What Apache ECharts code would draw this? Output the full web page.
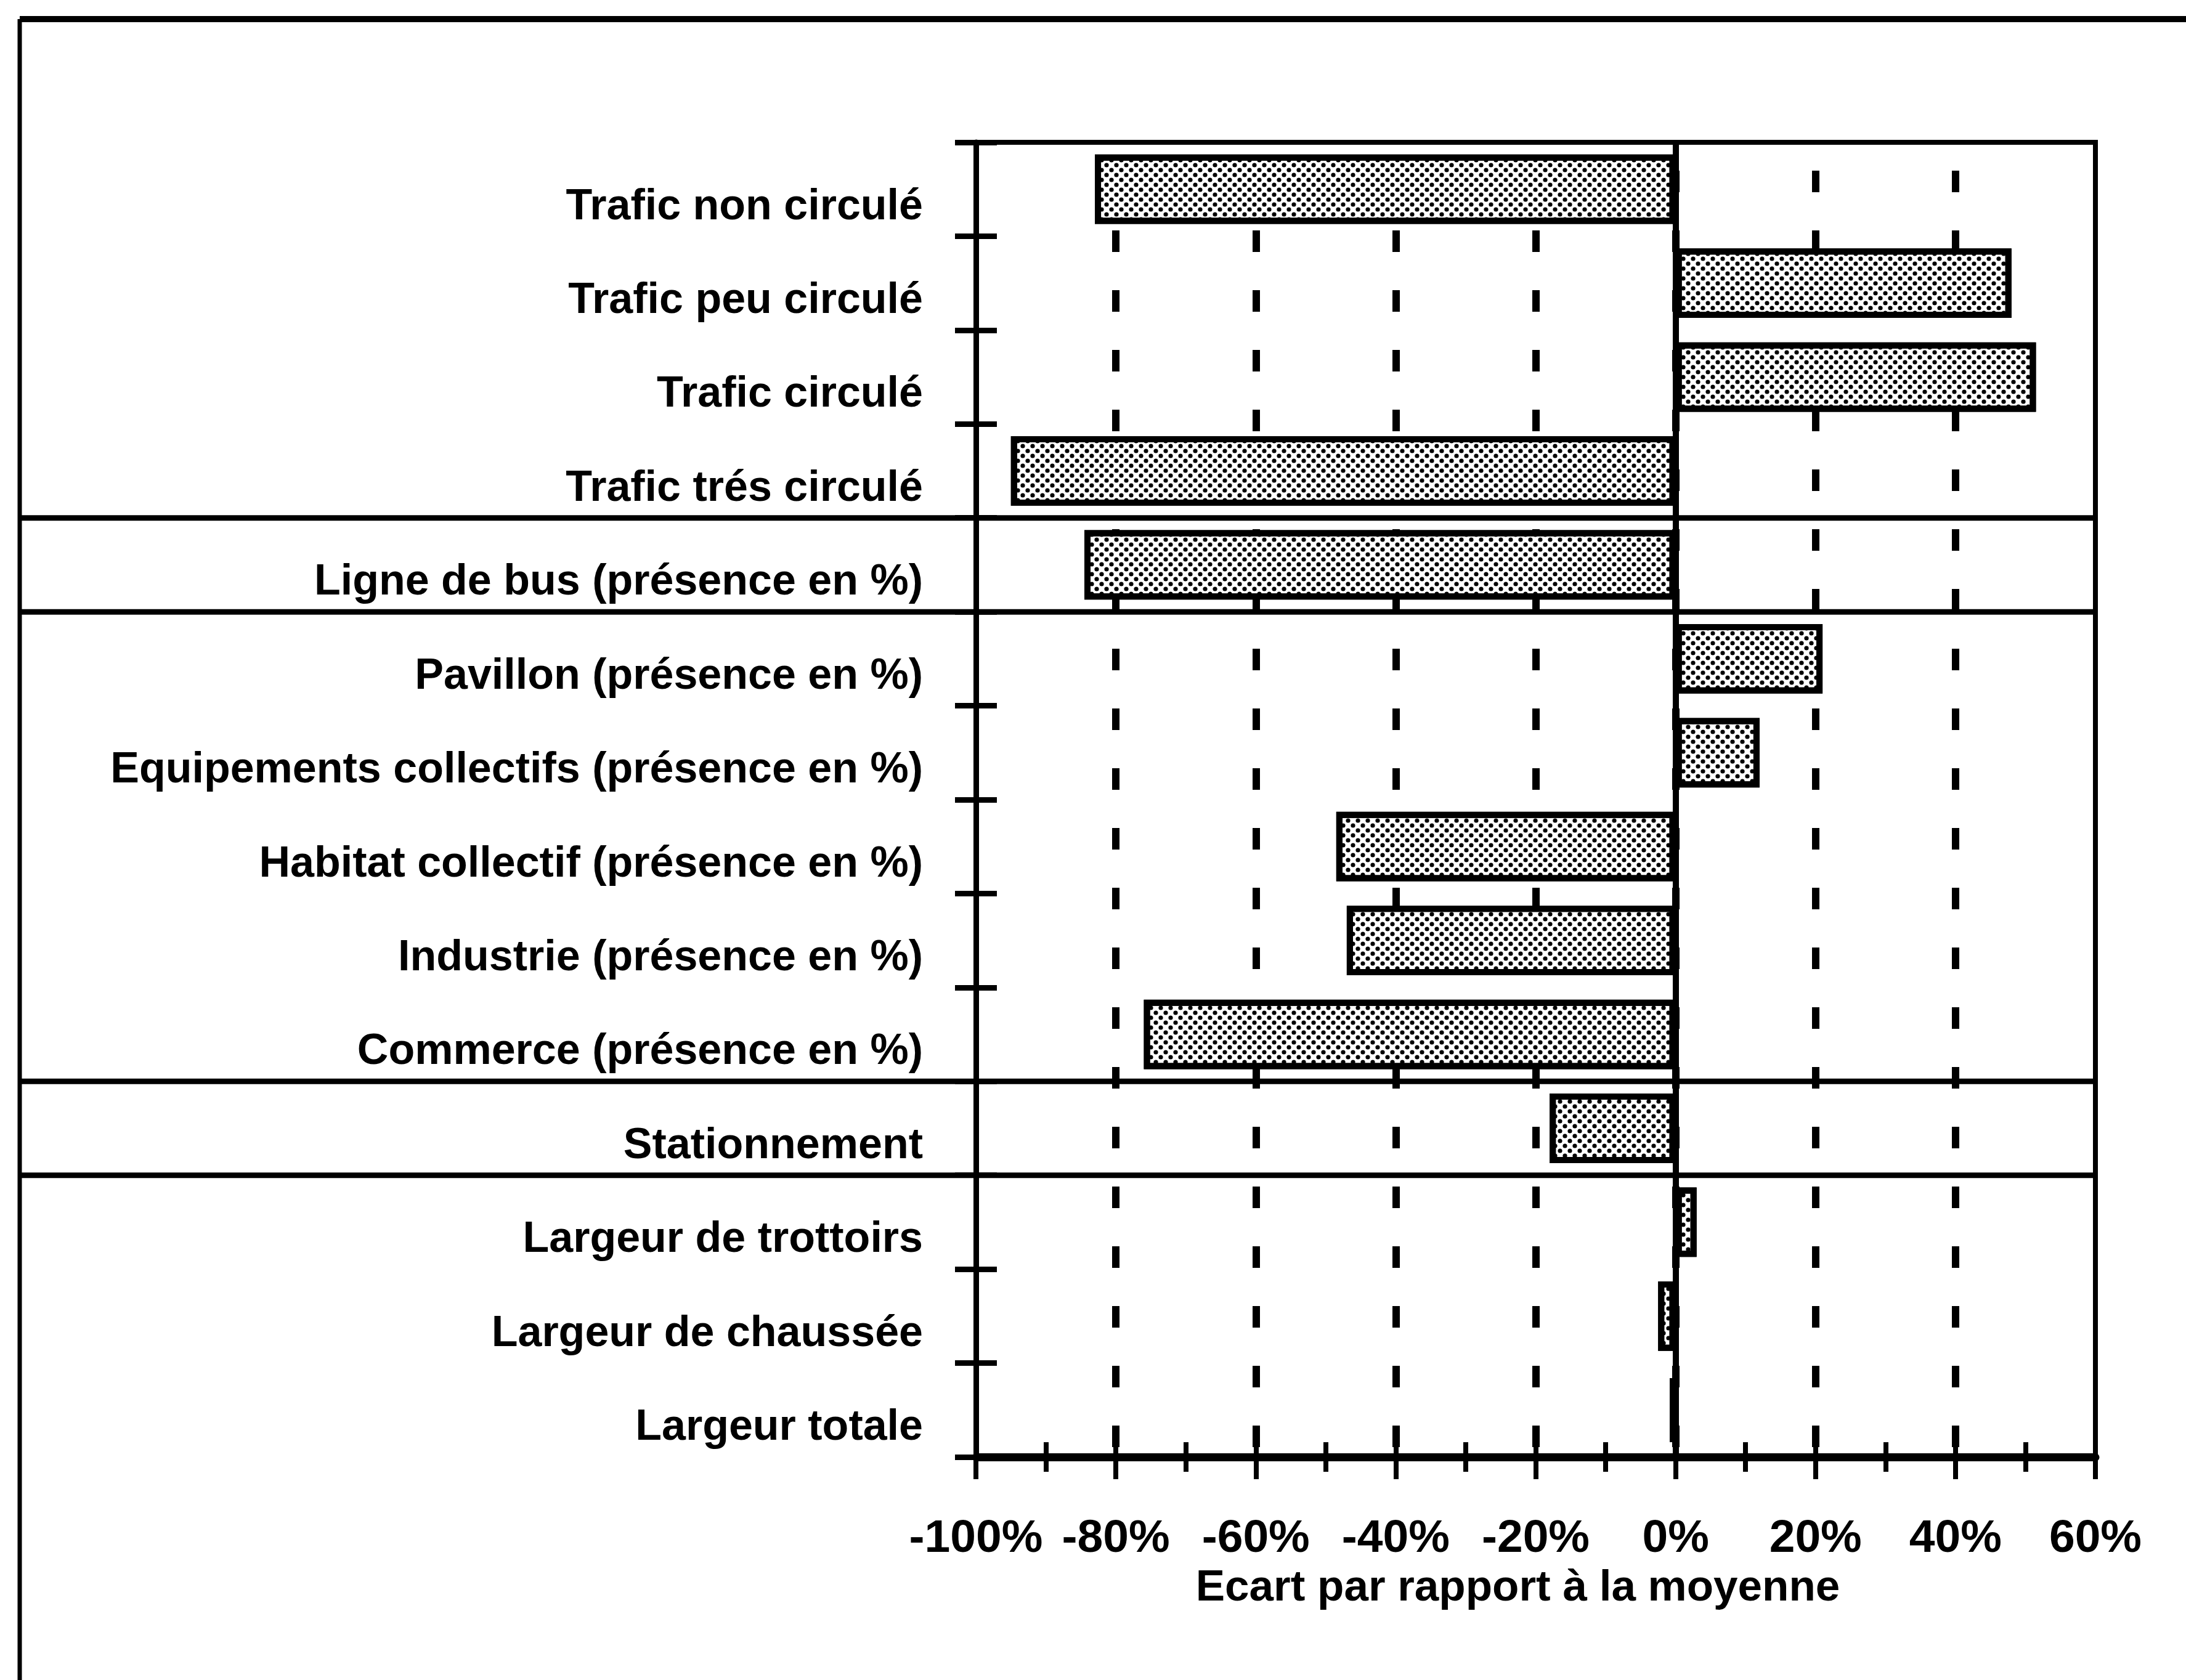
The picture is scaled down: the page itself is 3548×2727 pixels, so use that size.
<!DOCTYPE html>
<html>
<head>
<meta charset="utf-8">
<script src="https://cdn.jsdelivr.net/npm/echarts@6/dist/echarts.min.js"></script>
<style>
html, body { margin: 0; padding: 0; background: #fff; }
#main { width: 3548px; height: 2727px; }
</style>
</head>
<body>
<div id="main"></div>
<script>
// catégories (de haut en bas) et écarts par rapport à la moyenne, en %
var categories = [
    'Trafic non circulé',
    'Trafic peu circulé',
    'Trafic circulé',
    'Trafic trés circulé',
    'Ligne de bus (présence en %)',
    'Pavillon (présence en %)',
    'Equipements collectifs (présence en %)',
    'Habitat collectif (présence en %)',
    'Industrie (présence en %)',
    'Commerce (présence en %)',
    'Stationnement',
    'Largeur de trottoirs',
    'Largeur de chaussée',
    'Largeur totale'
]
var values = [-83, 48, 51.5, -95, -84.5, 21, 12, -48.5, -47, -76, -18, 3, -2.5, -0.8]

// axe des x
var xMin = -100
var xMax = 60
var xStep = 20

// traits de séparation sous ces catégories
var sectionBreaks = [3, 4, 9, 10]

var font = "'Liberation Sans Narrow', 'Liberation Sans', Arial, sans-serif"
var black = '#000'

var myChart = echarts.init(document.getElementById('main'))

var tickStyle = { color: black, width: 8 }

var option = {
    animation: false,
    backgroundColor: '#fff',
    grid: {
        left: 1584,
        right: 147,
        top: 231,
        bottom: 362,
        show: true,
        borderColor: black,
        borderWidth: 8,
        outerBoundsMode: 'none'
    },
    xAxis: [{
        type: 'value',
        position: 'bottom',
        min: xMin,
        max: xMax,
        interval: xStep,
        axisLine: { show: true, onZero: false, lineStyle: { color: black, width: 13 } },
        axisTick: { show: true, length: 36, lineStyle: tickStyle },
        minorTick: { show: true, splitNumber: 2, length: 24, lineStyle: tickStyle },
        axisLabel: {
            formatter: '{value}%',
            color: black,
            fontFamily: font,
            fontWeight: 'bold',
            fontSize: 75,
            margin: 96
        },
        splitLine: {
            show: true,
            showMinLine: false,
            showMaxLine: false,
            lineStyle: { color: black, width: 12, type: [35, 62], dashOffset: 51 }
        },
        name: 'Ecart par rapport à la moyenne',
        nameLocation: 'middle',
        nameGap: 178,
        nameTextStyle: {
            color: black,
            fontFamily: font,
            fontWeight: 'bold',
            fontSize: 71,
            padding: [0, 58, 0, 0]
        }
    }, {
        // ticks intérieurs, pour qu'ils traversent l'axe
        type: 'value',
        position: 'bottom',
        min: xMin,
        max: xMax,
        interval: xStep,
        axisLine: { show: false, onZero: false },
        axisTick: { show: true, inside: true, length: 36, lineStyle: tickStyle },
        minorTick: { show: true, splitNumber: 2, length: 24, lineStyle: tickStyle },
        axisLabel: { show: false },
        splitLine: { show: false }
    }],
    yAxis: [{
        type: 'category',
        data: categories,
        inverse: true,
        position: 'left',
        axisLine: { show: true, onZero: false, lineStyle: { color: black, width: 9 } },
        axisTick: { show: true, length: 34, lineStyle: { color: black, width: 9 } },
        axisLabel: {
            color: black,
            fontFamily: font,
            fontWeight: 'bold',
            fontSize: 70,
            margin: 86,
            verticalAlign: 'top',
            lineHeight: 58
        },
        splitLine: { show: false }
    }, {
        type: 'category',
        data: categories,
        inverse: true,
        position: 'left',
        axisLine: { show: false, onZero: false },
        axisTick: { show: true, inside: true, length: 34, lineStyle: { color: black, width: 9 } },
        axisLabel: { show: false },
        splitLine: { show: false }
    }],
    series: [{
        type: 'bar',
        data: values,
        barWidth: '74%',
        itemStyle: {
            color: '#fff',
            borderColor: black,
            borderWidth: 10,
            decal: {
                symbol: 'circle',
                symbolSize: 0.9,
                color: black,
                dashArrayX: [[8, 8], [0, 8, 8, 0]],
                dashArrayY: [8, 0],
                rotation: 0
            }
        },
        markLine: {
            silent: true,
            symbol: ['none', 'none'],
            label: { show: false },
            lineStyle: { color: black, width: 10, type: 'solid' },
            data: [{ xAxis: 0 }]
        }
    }]
}

myChart.setOption(option)

// cadre et traits de séparation, placés à partir des axes
function rowBoundary(i) {
    var a = myChart.convertToPixel({ yAxisIndex: 0 }, i)
    var b = myChart.convertToPixel({ yAxisIndex: 0 }, i + 1)
    return (a + b) / 2
}

var xRight = myChart.convertToPixel({ xAxisIndex: 0 }, xMax)
var frameX = 32
var frameY = 31
var graphics = [
    { type: 'line', shape: { x1: frameX, y1: frameY, x2: 3548, y2: frameY }, style: { stroke: black, lineWidth: 10 } },
    { type: 'line', shape: { x1: frameX, y1: frameY, x2: frameX, y2: 2727 }, style: { stroke: black, lineWidth: 7 } }
]
for (var i = 0; i < sectionBreaks.length; i++) {
    var y = rowBoundary(sectionBreaks[i])
    graphics.push({
        type: 'line',
        shape: { x1: frameX, y1: y, x2: xRight, y2: y },
        style: { stroke: black, lineWidth: 9 }
    })
}
myChart.setOption({ graphic: graphics })
</script>
</body>
</html>
